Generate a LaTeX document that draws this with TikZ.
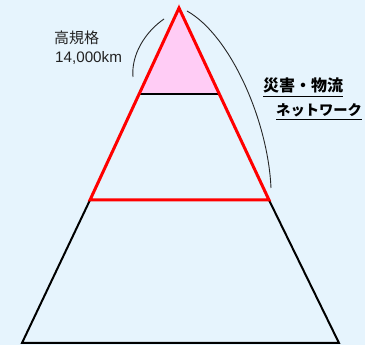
\documentclass[tikz,border=0pt]{standalone}
\usepackage{fontspec}
\newfontfamily\jp{Noto Sans CJK JP}
\newfontfamily\lat{Liberation Sans}
\definecolor{bgblue}{RGB}{230,244,253}
\definecolor{pinkfill}{RGB}{255,204,245}
\definecolor{txtgray}{RGB}{34,34,34}
\begin{document}
\begin{tikzpicture}[x=1pt,y=-1pt,
  redline/.style={draw=red,line width=3pt,line join=miter},
  blackline/.style={draw=black,line width=2pt},
  arcline/.style={draw=black!85,line width=0.9pt},
  lbl/.style={inner sep=0pt,anchor=base west,text=txtgray},
  blbl/.style={inner sep=0pt,anchor=base west,text=black}]
\fill[bgblue] (0,0) rectangle (365,345);
\useasboundingbox (0,0) rectangle (365,345);
% coordinates
\coordinate (apex) at (179,8);
\coordinate (pl) at (140,94);
\coordinate (pr) at (218,94);
\coordinate (rl) at (90,200);
\coordinate (rr) at (269,200);
\coordinate (bl) at (22,343);
\coordinate (br) at (339,343);
% pink top
\fill[pinkfill] (apex) -- (pl) -- (pr) -- cycle;
\draw[black,line width=1.5pt] (pl) -- (pr);
% lower black trapezoid
\draw[blackline,line join=miter] (rl) -- (bl) -- (br) -- (rr);
% red triangle
\draw[redline] (apex) -- (rl) -- (rr) -- cycle;
% arcs
\coordinate (a1s) at (164,19);
\coordinate (a1e) at (133,77);
\draw[arcline] (a1s) .. controls (145,32) and (131,55) .. (a1e);
\coordinate (a2s) at (187,11);
\coordinate (a2e) at (271,188);
\draw[arcline] (a2s) .. controls (230,35) and (268,120) .. (a2e);
% labels
\node[lbl,font=\jp\fontsize{15}{15}\selectfont] (t1) at (54,44) {高規格};
\node[lbl,font=\lat\fontsize{15.2}{15}\selectfont] (t2) at (55,63) {14,000km};
\node[blbl,font=\jp\bfseries\fontsize{16}{16}\selectfont] (n1) at (263,92) {災害・物流};
\node[blbl,font=\jp\bfseries\fontsize{14.3}{15}\selectfont] (n2) at (276,116) {ネットワーク};
\draw[black,line width=1pt] ([yshift=-5pt]n1.base west) -- ([yshift=-5pt]n1.base east);
\draw[black,line width=1pt] ([yshift=-4pt]n2.base west) -- ([yshift=-4pt]n2.base east);
\end{tikzpicture}
\end{document}
